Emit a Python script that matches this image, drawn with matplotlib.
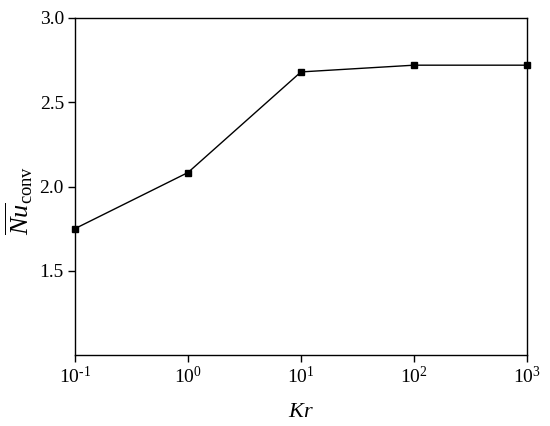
import matplotlib
matplotlib.use("Agg")
import matplotlib.pyplot as plt

kr = [0.1, 1, 10, 100, 1000]
nu_conv = [1.75, 2.083, 2.68, 2.72, 2.72]
yticks = [1.5, 2.0, 2.5, 3.0]
xtick_labels = [r"10$^{\text{-}1}$", r"10$^{0}$", r"10$^{1}$", r"10$^{2}$", r"10$^{3}$"]

plt.rcParams["font.family"] = ["Liberation Serif", "DejaVu Serif"]
plt.rcParams["mathtext.fontset"] = "custom"
plt.rcParams["mathtext.rm"] = "Liberation Serif"
plt.rcParams["mathtext.it"] = "Liberation Serif:italic"

fig = plt.figure(figsize=(5.5, 4.26), dpi=100)
ax = fig.add_axes([75 / 550, 1 - 355 / 426, 452 / 550, 337 / 426])

ax.plot(kr, nu_conv, "k-", lw=1.0, marker="s", ms=5, clip_on=False, zorder=3)

ax.set_xscale("log")
ax.set_xlim(0.1, 1000)
ax.set_ylim(1.0, 3.0)
ax.set_xticks(kr)
ax.set_xticklabels(xtick_labels)
ax.minorticks_off()
ax.set_yticks(yticks)
ax.set_yticklabels(["1.5", "2.0", "2.5", "3.0"])

ax.tick_params(direction="out", length=5, width=1, labelsize=14, pad=3)
for s in ax.spines.values():
    s.set_linewidth(1.0)

ax.set_xlabel(r"$Kr$", fontsize=16, labelpad=11)
ax.set_ylabel(r"$\overline{Nu}_{\mathrm{conv}}$", fontsize=19)
ax.yaxis.set_label_coords(-0.088, 0.46)

fig.savefig("out.png", dpi=100)
